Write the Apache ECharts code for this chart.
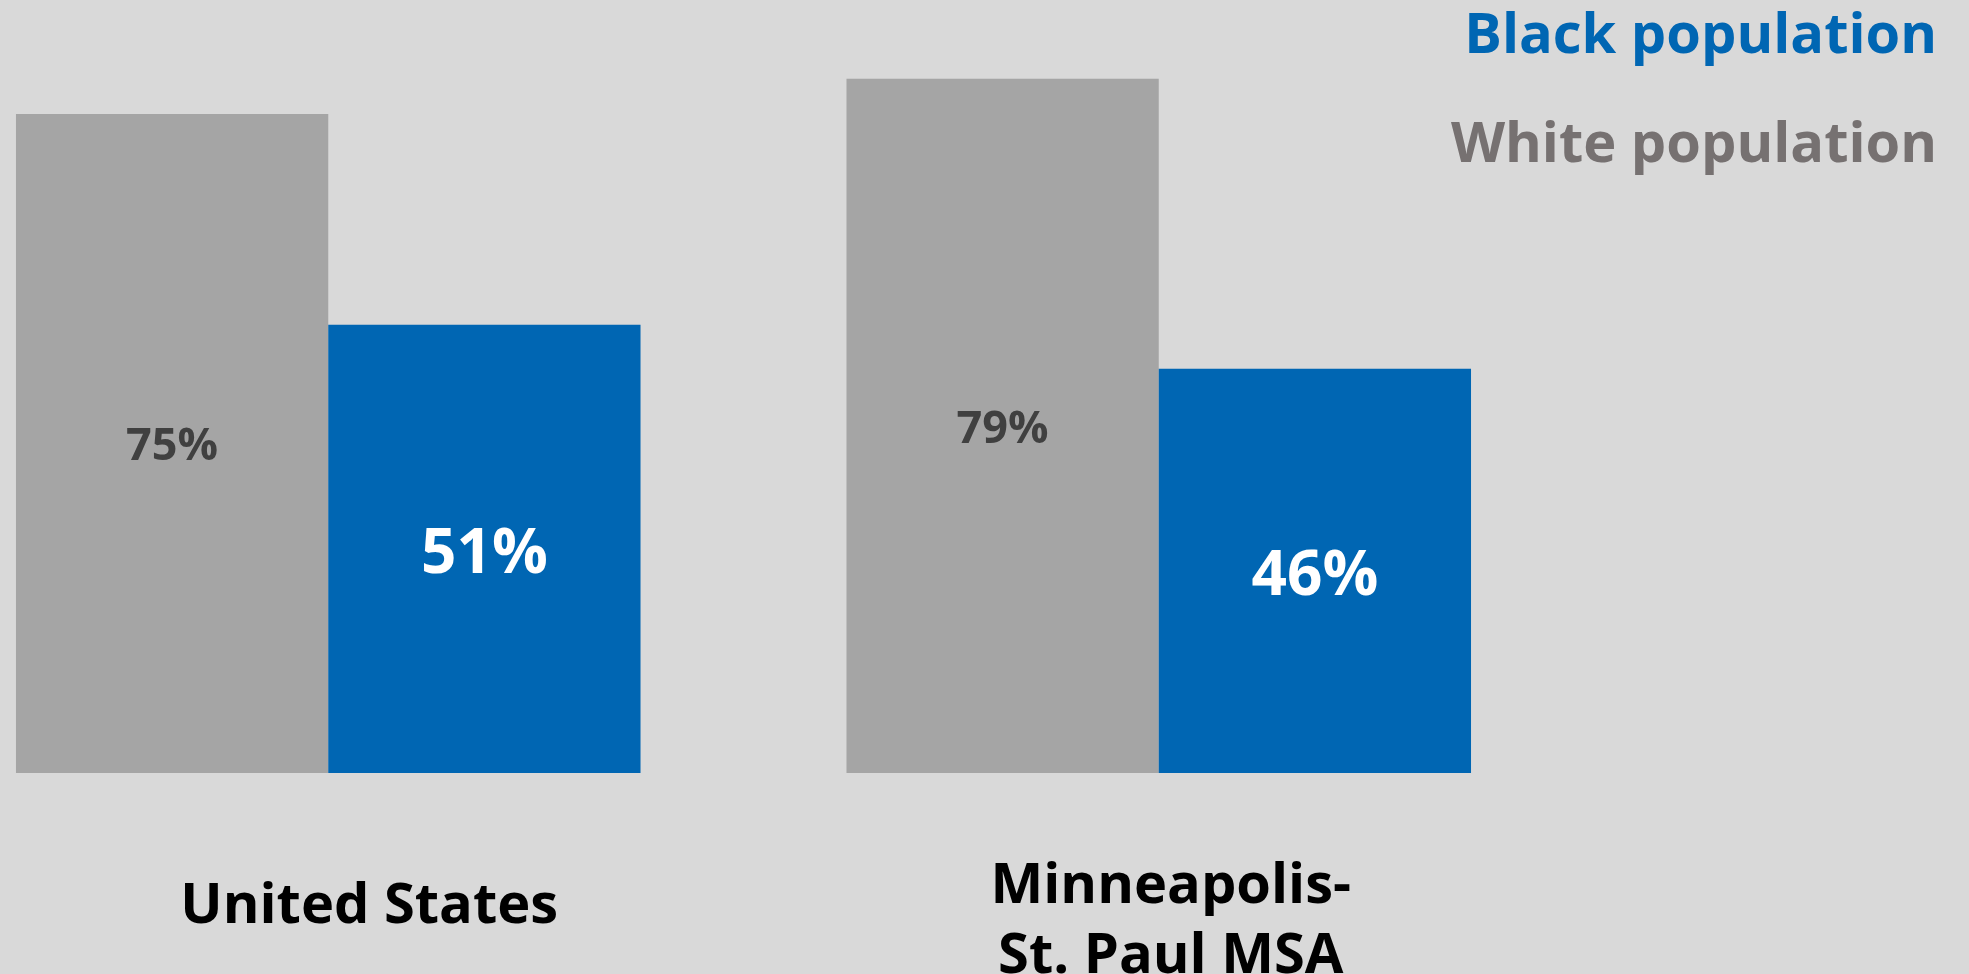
<!DOCTYPE html>
<html>
<head>
<meta charset="utf-8">
<title>Population share</title>
<script src="https://cdn.jsdelivr.net/npm/echarts@6/dist/echarts.min.js"></script>
<style>
  html, body { margin: 0; padding: 0; background: #d9d9d9; }
  #chart { width: 1969px; height: 974px; }
</style>
</head>
<body>
<div id="chart"></div>
<script>
  const categories = ['United States', 'Minneapolis-\nSt. Paul MSA'];
  const whitePopulation = [75, 79];
  const blackPopulation = [51, 46];
  const seriesNames = ['White population', 'Black population'];

  const FONT = '"Open Sans", "DejaVu Sans", sans-serif';

  const chart = echarts.init(document.getElementById('chart'));
  const option = {
    backgroundColor: '#d9d9d9',
    animation: false,
    textStyle: { fontFamily: FONT },
    legend: {
      data: [
        { name: seriesNames[1], textStyle: { color: '#0066b3' } },
        { name: seriesNames[0], textStyle: { color: '#767171' } }
      ],
      orient: 'vertical',
      align: 'right',
      right: 22,
      top: 4,
      icon: 'none',
      itemWidth: 0,
      itemHeight: 0,
      itemGap: 53,
      selectedMode: false,
      textStyle: {
        fontFamily: FONT,
        fontWeight: 'bold',
        fontSize: 56,
        lineHeight: 56
      }
    },
    grid: {
      left: -87,
      width: 1661,
      top: 70,
      bottom: 201,
      outerBoundsMode: 'none',
      containLabel: false
    },
    xAxis: {
      type: 'category',
      data: categories,
      axisLine: { show: false },
      axisTick: { show: false },
      axisLabel: {
        margin: 79,
        interval: 0,
        formatter: function (value, idx) {
          const key = idx === 0 ? 'us' : 'msa';
          return value.split('\n').map(s => '{' + key + '|' + s + '}').join('\n');
        },
        rich: {
          us: {
            fontFamily: FONT, fontWeight: 'bold', fontSize: 56, lineHeight: 70,
            color: '#000', padding: [40, 0, 0, 82]
          },
          msa: {
            fontFamily: FONT, fontWeight: 'bold', fontSize: 56, lineHeight: 70,
            color: '#000', padding: [0, 0, 0, 24]
          }
        }
      }
    },
    yAxis: {
      type: 'value',
      min: 0,
      max: 80,
      show: false,
      splitLine: { show: false }
    },
    series: [
      {
        name: seriesNames[0],
        type: 'bar',
        data: whitePopulation,
        barGap: '0%',
        barCategoryGap: '24.8%',
        itemStyle: { color: '#a5a5a5' },
        label: {
          show: true,
          position: 'inside',
          offset: [0, 4],
          formatter: '{c}%',
          color: '#404040',
          fontFamily: FONT,
          fontWeight: 'bold',
          fontSize: 45
        }
      },
      {
        name: seriesNames[1],
        type: 'bar',
        data: blackPopulation,
        barGap: '0%',
        barCategoryGap: '24.8%',
        itemStyle: { color: '#0066b3' },
        label: {
          show: true,
          position: 'inside',
          offset: [0, 6],
          formatter: '{c}%',
          color: '#ffffff',
          fontFamily: FONT,
          fontWeight: 'bold',
          fontSize: 62
        }
      }
    ]
  };
  chart.setOption(option);
</script>
</body>
</html>
